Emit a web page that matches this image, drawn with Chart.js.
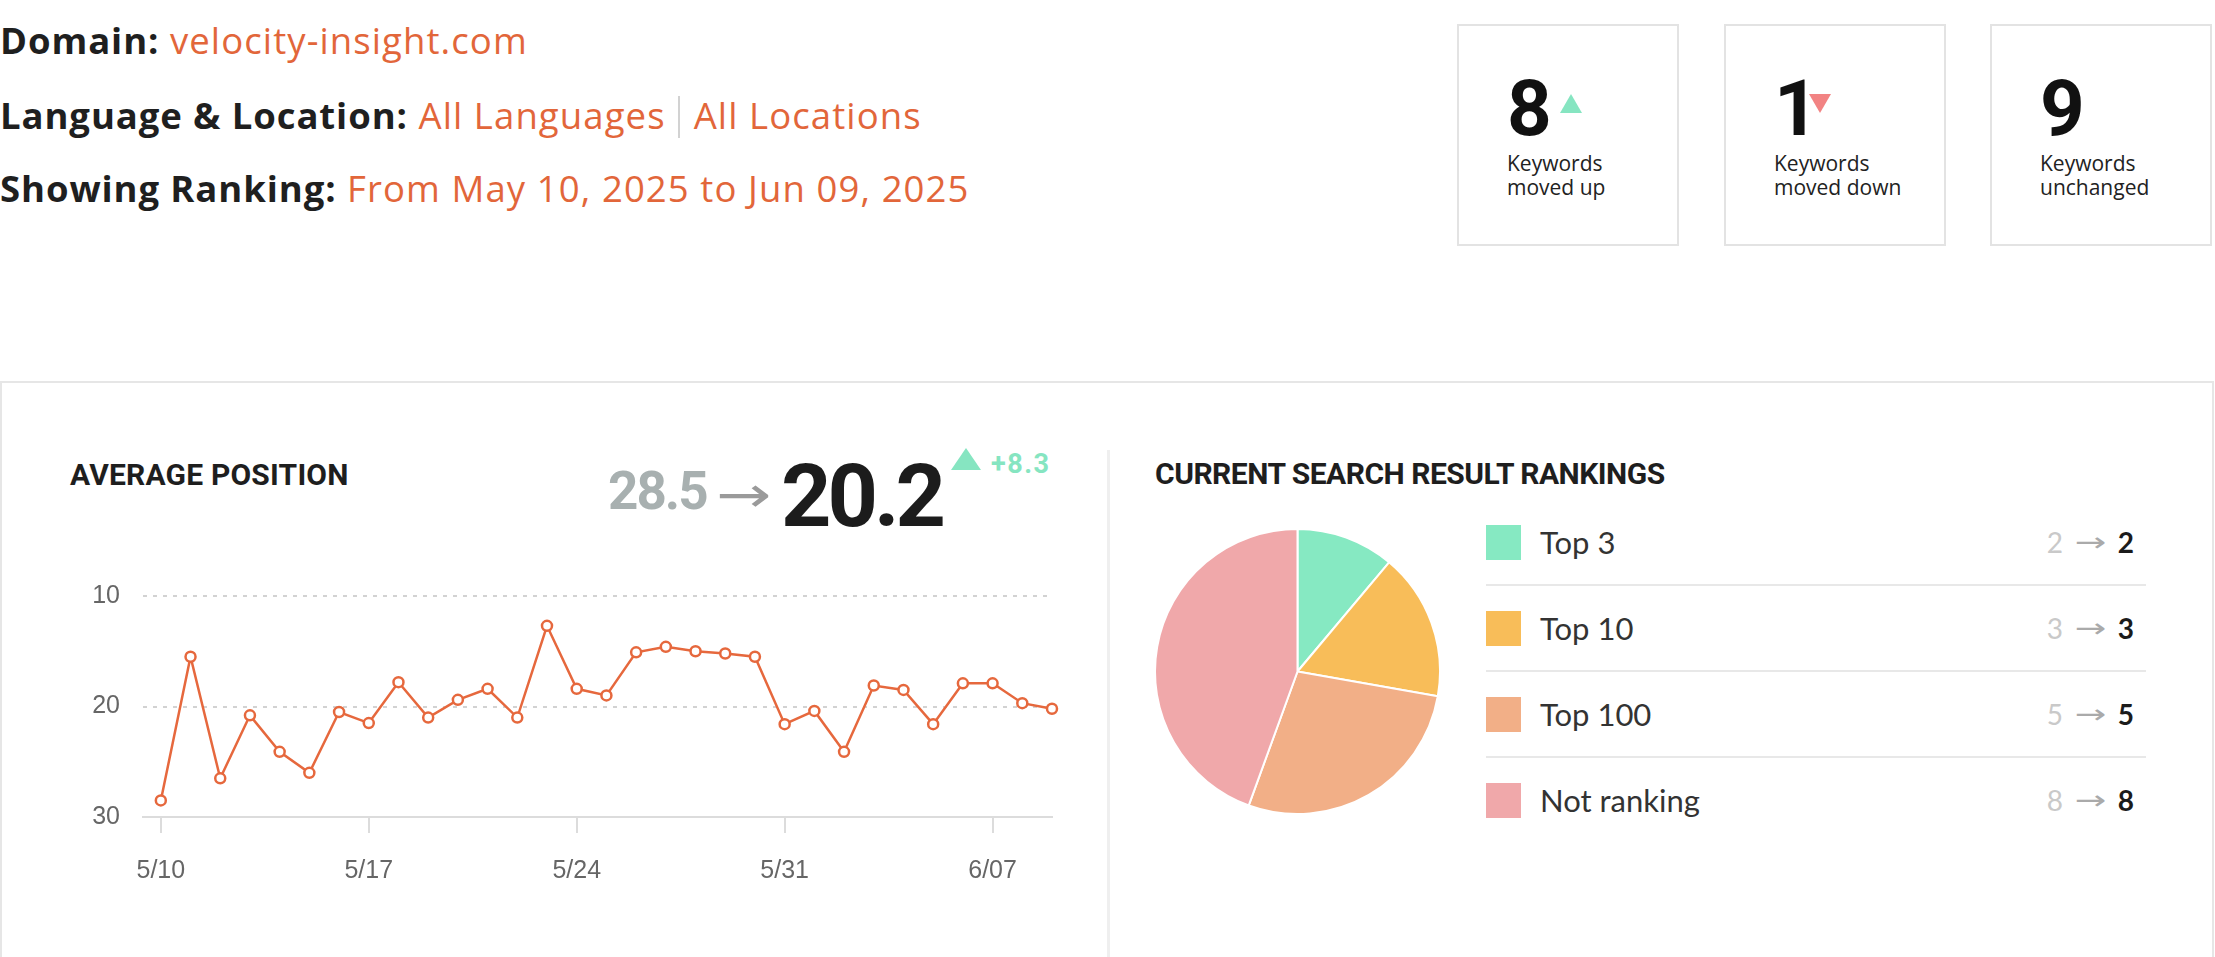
<!DOCTYPE html>
<html>
<head>
<meta charset="utf-8">
<title>Ranking overview</title>
<script src="https://cdn.jsdelivr.net/npm/chart.js@4.4.1/dist/chart.umd.min.js"></script>
<style>
  html, body { margin: 0; padding: 0; background: #fff; }
  body { width: 2215px; height: 957px; position: relative; overflow: hidden; font-family: 'Open Sans', sans-serif; color: #1f1f1f; }
  .abs { position: absolute; white-space: nowrap; line-height: 1; }
  .info { left: 0; font-size: 36.5px; letter-spacing: 1.1px; }
  .info b { font-weight: 700; color: #1f1f1f; letter-spacing: 0.9px; }
  .info span { color: #e2663a; }
  .info .sep { display: inline-block; width: 2px; height: 42px; background: #d2d2d2; vertical-align: -9px; margin: 0 14px 0 12px; }

  .stat { position: absolute; top: 24px; width: 222px; height: 222px; box-sizing: border-box; border: 2px solid #e3e3e3; }
  .stat .num { position: absolute; left: 48px; top: 44px; font: 700 78px Roboto; line-height: 1; color: #111; }
  .stat .txt { position: absolute; left: 48px; top: 125px; font-size: 21px; line-height: 24px; color: #222; }
  .tri-up { position: absolute; width: 0; height: 0; border-left: 11px solid transparent; border-right: 11px solid transparent; border-bottom: 19px solid #86e5c1; }
  .tri-down { position: absolute; width: 0; height: 0; border-left: 11px solid transparent; border-right: 11px solid transparent; border-top: 19px solid #f28383; }

  .card { position: absolute; left: 0; top: 381px; width: 2214px; height: 620px; box-sizing: border-box; border: 2px solid #e6e6e6; }
  .divider { position: absolute; left: 1107px; top: 450px; width: 3px; height: 600px; background: #efefef; }
  .title { font: 700 30px Roboto; letter-spacing: -0.5px; color: #1e1e1e; }

  .legend { position: absolute; left: 1486px; top: 500px; width: 660px; }
  .legend .row { height: 84px; display: flex; align-items: center; border-bottom: 2px solid #e8e8e8; padding-right: 12px; }
  .legend .row:last-child { border-bottom: none; }
  .legend .swatch { width: 35px; height: 35px; margin-right: 19px; }
  .legend .label { font: 400 31px Lato; color: #333; flex: 1; }
  .legend .prev { font: 400 28px Lato; color: #c9c9c9; }
  .legend .arrow { display: inline-block; font: 400 26px 'DejaVu Sans'; color: #aaa; transform: scaleX(1.45); margin: 0 16px 0 17px; }
  .legend .cur { font: 700 28px Lato; color: #1b1b1b; }
</style>
</head>
<body>
  <div class="abs info" style="top:22px"><b>Domain:</b> <span>velocity-insight.com</span></div>
  <div class="abs info" style="top:96px"><b>Language &amp; Location:</b> <span>All Languages</span><i class="sep"></i><span>All Locations</span></div>
  <div class="abs info" style="top:170px"><b>Showing Ranking:</b> <span>From May 10, 2025 to Jun 09, 2025</span></div>

  <div class="stat" style="left:1457px">
    <div class="num" id="statUp"></div>
    <div class="tri-up" style="left:101px; top:68px"></div>
    <div class="txt">Keywords<br>moved up</div>
  </div>
  <div class="stat" style="left:1724px">
    <div class="num" id="statDown"></div>
    <div class="tri-down" style="left:83px; top:68px"></div>
    <div class="txt">Keywords<br>moved down</div>
  </div>
  <div class="stat" style="left:1990px">
    <div class="num" id="statSame"></div>
    <div class="txt">Keywords<br>unchanged</div>
  </div>

  <div class="card"></div>
  <div class="divider"></div>

  <div class="abs title" style="left:70px; top:457px; letter-spacing:0.2px">AVERAGE POSITION</div>
  <div class="abs" id="avgStart" style="left:608px; top:460px; font:700 53px Roboto; letter-spacing:-2px; color:#a8b0b0"></div>
  <div class="abs" style="left:716px; top:466px; font:400 50px 'DejaVu Sans'; color:#9a9a9a; transform: scaleX(1.32); transform-origin: left center">&rarr;</div>
  <div class="abs" id="avgEnd" style="left:781px; top:444px; font:700 88px Roboto; letter-spacing:-4px; color:#1c1c1c"></div>
  <div class="tri-up" style="left:951px; top:448px; border-left-width:15px; border-right-width:15px; border-bottom-width:22px"></div>
  <div class="abs" id="avgDelta" style="left:991px; top:448px; font:700 27px Roboto; letter-spacing:1.5px; color:#86e5c1"></div>

  <div style="position:absolute; left:80px; top:558px; width:990px; height:342px"><canvas id="positionChart"></canvas></div>

  <div class="abs title" style="left:1155px; top:456px">CURRENT SEARCH RESULT RANKINGS</div>
  <div style="position:absolute; left:1154px; top:528px; width:287px; height:287px"><canvas id="rankingChart"></canvas></div>
  <div class="legend" id="rankingLegend"></div>

<script>
  // keyword movement counts
  const keywordsUp = 8
  const keywordsDown = 1
  const keywordsUnchanged = 9

  // average position per day, 5/10 .. 6/09
  const dateLabels = [
    '5/10', '5/11', '5/12', '5/13', '5/14', '5/15', '5/16', '5/17', '5/18', '5/19', '5/20',
    '5/21', '5/22', '5/23', '5/24', '5/25', '5/26', '5/27', '5/28', '5/29', '5/30', '5/31',
    '6/01', '6/02', '6/03', '6/04', '6/05', '6/06', '6/07', '6/08', '6/09',
  ]
  const avgPosition = [
    28.5, 15.5, 26.5, 20.8, 24.1, 26.0, 20.5, 21.5, 17.8, 21.0, 19.4,
    18.4, 21.0, 12.7, 18.4, 19.0, 15.1, 14.6, 15.0, 15.2, 15.5, 21.6,
    20.4, 24.1, 18.1, 18.5, 21.6, 17.9, 17.9, 19.7, 20.2,
  ]
  const xTickDays = [0, 7, 14, 21, 28]
  const yTicks = [10, 20, 30]

  // search result rankings
  const rankingLabels = ['Top 3', 'Top 10', 'Top 100', 'Not ranking']
  const rankingPrevious = [2, 3, 5, 8]
  const rankingCurrent = [2, 3, 5, 8]

  const rankingColours = ['#86e9c2', '#f8bd59', '#f2af87', '#f0a8aa']
  const lineColour = '#e6683d'

  document.getElementById('statUp').textContent = keywordsUp
  document.getElementById('statDown').textContent = keywordsDown
  document.getElementById('statSame').textContent = keywordsUnchanged

  const first = avgPosition[0]
  const last = avgPosition[avgPosition.length - 1]
  document.getElementById('avgStart').textContent = first.toFixed(1)
  document.getElementById('avgEnd').textContent = last.toFixed(1)
  document.getElementById('avgDelta').textContent = '+' + (first - last).toFixed(1)

  const tickFont = { family: "'Liberation Sans', Arial, sans-serif", size: 25 }

  new Chart(document.getElementById('positionChart'), {
    type: 'line',
    data: {
      datasets: [{
        data: avgPosition.map((y, x) => ({ x, y })),
        borderColor: lineColour,
        borderWidth: 2.5,
        pointRadius: 5,
        pointBorderWidth: 2.5,
        pointBorderColor: lineColour,
        pointBackgroundColor: '#fff',
        tension: 0,
        clip: false,
      }],
    },
    options: {
      responsive: true,
      maintainAspectRatio: false,
      animation: false,
      // top space comes from the y tick labels (half label + padding)
      layout: { padding: { top: 0, right: 18 } },
      plugins: { legend: { display: false }, tooltip: { enabled: false } },
      scales: {
        x: {
          type: 'linear',
          min: -0.6,
          max: 30,
          afterBuildTicks(scale) {
            scale.ticks = xTickDays.map((value) => ({ value }))
          },
          afterFit(scale) {
            scale.height = 83
          },
          grid: { drawOnChartArea: false, drawTicks: true, tickLength: 16, color: '#dcdcdc', lineWidth: 2 },
          border: { color: '#dcdcdc', width: 2 },
          ticks: {
            font: tickFont,
            color: '#666',
            padding: 23,
            maxRotation: 0,
            callback: (value) => dateLabels[value],
          },
        },
        y: {
          reverse: true,
          min: 10,
          max: 30,
          afterBuildTicks(scale) {
            scale.ticks = yTicks.map((value) => ({ value }))
          },
          afterFit(scale) {
            scale.width = 63
          },
          grid: { color: '#d2d2d2', lineWidth: 2, drawTicks: false },
          border: { display: false, dash: [4, 6] },
          ticks: { font: tickFont, color: '#666', padding: 23 },
        },
      },
    },
  })

  new Chart(document.getElementById('rankingChart'), {
    type: 'pie',
    data: {
      labels: rankingLabels,
      datasets: [{
        data: rankingCurrent,
        backgroundColor: rankingColours,
        borderColor: '#fff',
        borderWidth: 2,
      }],
    },
    options: {
      responsive: true,
      maintainAspectRatio: false,
      animation: false,
      plugins: { legend: { display: false }, tooltip: { enabled: false } },
    },
  })

  const legend = document.getElementById('rankingLegend')
  rankingLabels.forEach((label, i) => {
    legend.innerHTML += `
      <div class="row">
        <span class="swatch" style="background:${rankingColours[i]}"></span>
        <span class="label">${label}</span>
        <span class="prev">${rankingPrevious[i]}</span><span class="arrow">&rarr;</span><span class="cur">${rankingCurrent[i]}</span>
      </div>`
  })
</script>
</body>
</html>
